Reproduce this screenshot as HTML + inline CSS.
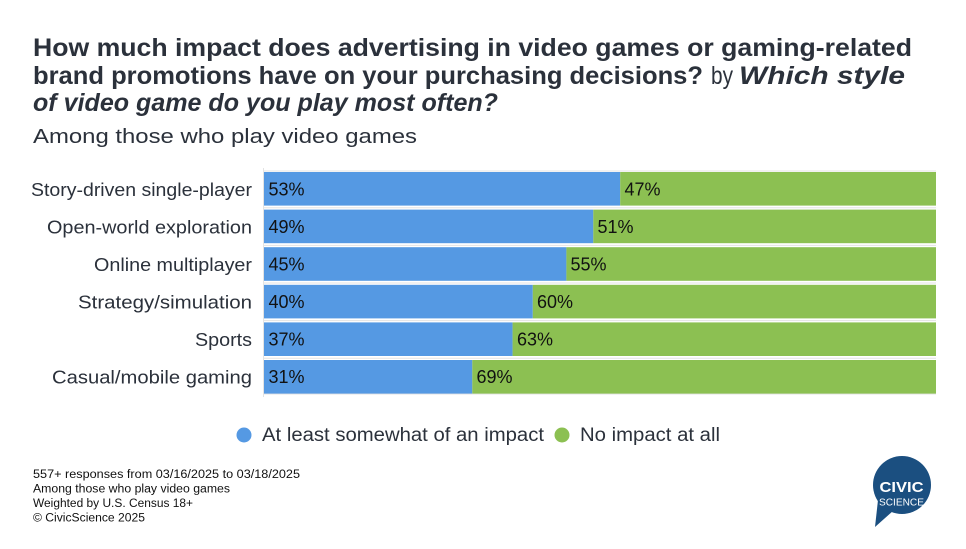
<!DOCTYPE html>
<html><head><meta charset="utf-8"><style>
html,body{margin:0;padding:0;background:#fff;}
svg{display:block;font-family:"Liberation Sans",Arial,sans-serif;}
</style></head><body>
<svg width="966" height="549" viewBox="0 0 966 549" xmlns="http://www.w3.org/2000/svg">
<rect width="966" height="549" fill="#fff"/>
<!-- Title -->
<g fill="#2b313b" font-weight="bold" font-size="25">
<text x="33" y="56" textLength="879" lengthAdjust="spacingAndGlyphs">How much impact does advertising in video games or gaming-related</text>
<text x="33" y="84" textLength="670" lengthAdjust="spacingAndGlyphs">brand promotions have on your purchasing decisions?</text>
<text x="711" y="84" font-weight="normal" textLength="22" lengthAdjust="spacingAndGlyphs">by</text>
<text x="739" y="84" font-style="italic" textLength="166" lengthAdjust="spacingAndGlyphs">Which style</text>
<text x="33" y="111" font-style="italic" textLength="465" lengthAdjust="spacingAndGlyphs">of video game do you play most often?</text>
</g>
<text x="33" y="143" fill="#2b313b" font-size="20" textLength="384" lengthAdjust="spacingAndGlyphs">Among those who play video games</text>

<!-- grid lines -->
<g stroke="#e3e3e3" stroke-width="1">
<line x1="263.5" y1="168" x2="263.5" y2="397"/>
<line x1="263" y1="171" x2="936" y2="171"/>
<line x1="263" y1="207.8" x2="936" y2="207.8"/>
<line x1="263" y1="245.4" x2="936" y2="245.4"/>
<line x1="263" y1="283" x2="936" y2="283"/>
<line x1="263" y1="320.6" x2="936" y2="320.6"/>
<line x1="263" y1="358.2" x2="936" y2="358.2"/>
<line x1="263" y1="394" x2="936" y2="394"/>
</g>

<!-- bars -->
<g>
<rect x="264" y="172" width="356.2" height="33.6" fill="#5599e3"/>
<rect x="620.2" y="172" width="315.8" height="33.6" fill="#8cc052"/>
<rect x="264" y="209.6" width="329.3" height="33.6" fill="#5599e3"/>
<rect x="593.3" y="209.6" width="342.7" height="33.6" fill="#8cc052"/>
<rect x="264" y="247.2" width="302.4" height="33.6" fill="#5599e3"/>
<rect x="566.4" y="247.2" width="369.6" height="33.6" fill="#8cc052"/>
<rect x="264" y="284.8" width="268.8" height="33.6" fill="#5599e3"/>
<rect x="532.8" y="284.8" width="403.2" height="33.6" fill="#8cc052"/>
<rect x="264" y="322.4" width="248.6" height="33.6" fill="#5599e3"/>
<rect x="512.6" y="322.4" width="423.4" height="33.6" fill="#8cc052"/>
<rect x="264" y="360" width="208.3" height="33.6" fill="#5599e3"/>
<rect x="472.3" y="360" width="463.7" height="33.6" fill="#8cc052"/>
</g>

<!-- value labels -->
<g fill="#111" font-size="18">
<text x="268.5" y="195.5" textLength="36" lengthAdjust="spacingAndGlyphs">53%</text><text x="624.5" y="195.5" textLength="36" lengthAdjust="spacingAndGlyphs">47%</text>
<text x="268.5" y="233" textLength="36" lengthAdjust="spacingAndGlyphs">49%</text><text x="597.5" y="233" textLength="36" lengthAdjust="spacingAndGlyphs">51%</text>
<text x="268.5" y="270.5" textLength="36" lengthAdjust="spacingAndGlyphs">45%</text><text x="570.5" y="270.5" textLength="36" lengthAdjust="spacingAndGlyphs">55%</text>
<text x="268.5" y="308" textLength="36" lengthAdjust="spacingAndGlyphs">40%</text><text x="537" y="308" textLength="36" lengthAdjust="spacingAndGlyphs">60%</text>
<text x="268.5" y="345.5" textLength="36" lengthAdjust="spacingAndGlyphs">37%</text><text x="517" y="345.5" textLength="36" lengthAdjust="spacingAndGlyphs">63%</text>
<text x="268.5" y="383" textLength="36" lengthAdjust="spacingAndGlyphs">31%</text><text x="476.5" y="383" textLength="36" lengthAdjust="spacingAndGlyphs">69%</text>
</g>

<!-- category labels -->
<g fill="#2b313b" font-size="18.5">
<text x="31" y="196" textLength="221" lengthAdjust="spacingAndGlyphs">Story-driven single-player</text>
<text x="47" y="233.5" textLength="205" lengthAdjust="spacingAndGlyphs">Open-world exploration</text>
<text x="94" y="271" textLength="158" lengthAdjust="spacingAndGlyphs">Online multiplayer</text>
<text x="78" y="308.5" textLength="174" lengthAdjust="spacingAndGlyphs">Strategy/simulation</text>
<text x="195" y="346" textLength="57" lengthAdjust="spacingAndGlyphs">Sports</text>
<text x="52" y="383.5" textLength="200" lengthAdjust="spacingAndGlyphs">Casual/mobile gaming</text>
</g>

<!-- legend -->
<circle cx="244" cy="435" r="7.5" fill="#5599e3"/>
<text x="262" y="441" fill="#2b313b" font-size="19" textLength="282" lengthAdjust="spacingAndGlyphs">At least somewhat of an impact</text>
<circle cx="562" cy="435" r="7.5" fill="#8cc052"/>
<text x="580" y="441" fill="#2b313b" font-size="19" textLength="140" lengthAdjust="spacingAndGlyphs">No impact at all</text>

<!-- footer -->
<g fill="#111" font-size="11.5">
<text x="33" y="478" textLength="267" lengthAdjust="spacingAndGlyphs">557+ responses from 03/16/2025 to 03/18/2025</text>
<text x="33" y="492.5" textLength="197" lengthAdjust="spacingAndGlyphs">Among those who play video games</text>
<text x="33" y="507" textLength="160" lengthAdjust="spacingAndGlyphs">Weighted by U.S. Census 18+</text>
<text x="33" y="521.5" textLength="112" lengthAdjust="spacingAndGlyphs">© CivicScience 2025</text>
</g>

<!-- logo -->
<g>
<circle cx="902" cy="485" r="29" fill="#1b4f80"/>
<path d="M878 500 L875 527 L893 511 Z" fill="#1b4f80"/>
<text x="901.5" y="492" fill="#fff" font-size="15" font-weight="bold" text-anchor="middle" textLength="44" lengthAdjust="spacingAndGlyphs">CIVIC</text>
<text x="901.5" y="505.5" fill="#fff" font-size="10.5" text-anchor="middle" textLength="45" lengthAdjust="spacingAndGlyphs">SCIENCE</text>
</g>
</svg>
</body></html>
